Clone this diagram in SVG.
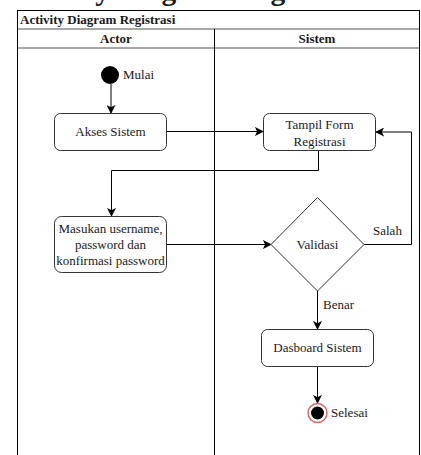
<svg xmlns="http://www.w3.org/2000/svg" width="421" height="455" viewBox="0 0 421 455">
  <style>
    .t { font-family: "Liberation Serif", "Times New Roman", serif; font-size: 13px; fill: #1a1a1a; }
    .c { text-anchor: middle; }
    .b { font-weight: bold; }
    .box { fill: #ffffff; stroke: #333333; stroke-width: 1; }
    .ln { fill: none; stroke: #000000; stroke-width: 1; }
    .sep { stroke: #8a8a8a; stroke-width: 1.5; }
  </style>
  <defs>
    <marker id="arr" viewBox="0 0 10 10" refX="9" refY="5" markerWidth="9" markerHeight="9" markerUnits="userSpaceOnUse" orient="auto">
      <path d="M0,0 L10,5 L0,10 L2.5,5 Z" fill="#000000"/>
    </marker>
  </defs>

  <rect width="421" height="455" fill="#ffffff"/>

  <!-- page heading, clipped at the top edge -->
  <text class="t b" x="10" y="0" style="font-size:29.5px">Activity Diagram Registrasi</text>

  <!-- swimlane pool -->
  <g id="pool">
    <rect x="17.5" y="10.5" width="402" height="460" fill="#ffffff" stroke="#000000" stroke-width="1"/>
    <text class="t b" x="20" y="24">Activity Diagram Registrasi</text>
    <line class="sep" x1="18" y1="29" x2="419" y2="29"/>
    <line class="sep" x1="18" y1="48" x2="419" y2="48"/>
    <line x1="214.5" y1="29" x2="214.5" y2="460" stroke="#000000" stroke-width="1"/>
    <text class="t b c" x="116" y="43">Actor</text>
    <text class="t b c" x="317" y="43">Sistem</text>
  </g>

  <!-- connectors -->
  <g id="connectors">
    <path class="ln" d="M111,84 V113" marker-end="url(#arr)"/>
    <path class="ln" d="M167,131.5 H263" marker-end="url(#arr)"/>
    <path class="ln" d="M318.5,151 V170.5 H111.5 V216" marker-end="url(#arr)"/>
    <path class="ln" d="M167,244.5 H271" marker-end="url(#arr)"/>
    <path class="ln" d="M364,244.5 H411.5 V132 H376" marker-end="url(#arr)"/>
    <path class="ln" d="M317.5,291 V329" marker-end="url(#arr)"/>
    <path class="ln" d="M317.5,367 V403" marker-end="url(#arr)"/>
    <text class="t" x="373" y="235">Salah</text>
    <text class="t" x="323" y="309">Benar</text>
  </g>

  <g id="start">
    <circle cx="110" cy="75" r="9" fill="#000000"/>
    <text class="t" x="123" y="79">Mulai</text>
  </g>

  <g id="akses-sistem">
    <rect class="box" x="54.5" y="113.5" width="112" height="37" rx="6"/>
    <text class="t c" x="110.5" y="136">Akses Sistem</text>
  </g>

  <g id="tampil-form">
    <rect class="box" x="263.5" y="113.5" width="112" height="37" rx="6"/>
    <text class="t c" x="319.5" y="129">Tampil Form</text>
    <text class="t c" x="319.5" y="146">Registrasi</text>
  </g>

  <g id="masukan">
    <rect class="box" x="54.5" y="216.5" width="112" height="56" rx="7"/>
    <text class="t c" x="110.5" y="233">Masukan username,</text>
    <text class="t c" x="110.5" y="249">password dan</text>
    <text class="t c" x="110.5" y="265">konfirmasi password</text>
  </g>

  <g id="validasi">
    <path class="box" d="M317.5,197.5 L364,244.5 L317.5,291 L271,244.5 Z"/>
    <text class="t c" x="317.5" y="248.5">Validasi</text>
  </g>

  <g id="dasboard">
    <rect class="box" x="261.5" y="329.5" width="112" height="37" rx="6"/>
    <text class="t c" x="317.5" y="352">Dasboard Sistem</text>
  </g>

  <g id="end">
    <circle cx="317.5" cy="413" r="9.5" fill="#ffffff" stroke="#d46a6a" stroke-width="1.5"/>
    <circle cx="317.5" cy="413" r="6.5" fill="#000000"/>
    <text class="t" x="331" y="417">Selesai</text>
  </g>
</svg>
